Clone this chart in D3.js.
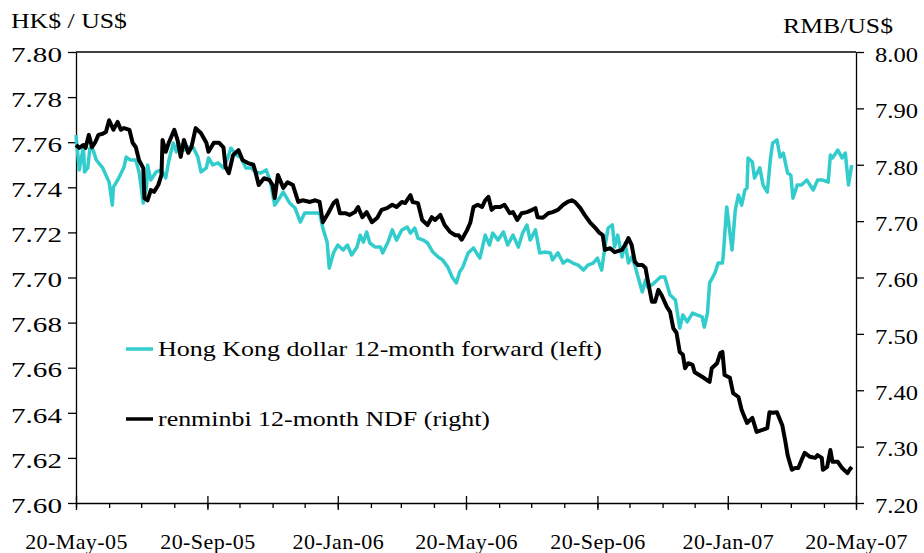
<!DOCTYPE html>
<html>
<head>
<meta charset="utf-8">
<script src="https://cdn.jsdelivr.net/npm/d3@7"></script>
<style>
  body { margin: 0; background: #fff; }
  text { font-family: "Liberation Serif", "Times New Roman", serif; fill: #000; }
</style>
</head>
<body>
<div id="chart"></div>
<script>
// x values are days after 20-May-05
const startDate = new Date(2005, 4, 20);
const endDate = new Date(2007, 4, 20);

const hkDay = [0,3,7,8,11,13,16,19,25,31,34,35,40,45,47,51,56,59,63,66,67,70,75,80,84,87,91,94,96,101,105,110,114,117,122,124,128,133,138,142,145,150,154,159,164,168,173,178,182,186,188,194,200,205,210,214,222,228,231,235,237,241,245,250,254,258,263,266,269,272,275,280,285,287,292,296,300,305,310,313,317,320,325,329,334,339,343,348,352,356,359,362,367,372,376,378,383,387,390,395,400,404,409,414,418,422,425,430,434,439,444,446,451,456,460,465,470,475,479,484,488,492,495,498,502,504,507,511,514,517,520,523,526,530,533,535,539,544,547,551,556,561,565,568,572,577,581,586,588,591,593,598,601,605,606,609,612,614,617,620,623,626,628,629,633,635,640,643,647,650,652,656,659,662,666,669,671,675,679,684,690,694,699,704,706,708,713,717,720,723,726];
const hkRate = [7.7632,7.7477,7.7579,7.7468,7.7486,7.7574,7.7565,7.7521,7.7486,7.7423,7.7321,7.7401,7.7441,7.7490,7.7534,7.7521,7.7521,7.7468,7.7330,7.7401,7.7499,7.7432,7.7468,7.7477,7.7441,7.7521,7.7596,7.7557,7.7596,7.7565,7.7579,7.7574,7.7534,7.7468,7.7486,7.7530,7.7499,7.7508,7.7486,7.7530,7.7574,7.7543,7.7534,7.7486,7.7486,7.7468,7.7463,7.7477,7.7423,7.7321,7.7335,7.7379,7.7330,7.7308,7.7246,7.7286,7.7286,7.7286,7.7219,7.7157,7.7042,7.7109,7.7144,7.7122,7.7144,7.7100,7.7135,7.7188,7.7157,7.7202,7.7153,7.7135,7.7135,7.7109,7.7157,7.7211,7.7166,7.7211,7.7224,7.7197,7.7219,7.7175,7.7166,7.7153,7.7113,7.7091,7.7078,7.7046,7.7002,7.6976,7.7024,7.7046,7.7109,7.7131,7.7100,7.7086,7.7188,7.7144,7.7197,7.7166,7.7202,7.7144,7.7188,7.7135,7.7197,7.7233,7.7166,7.7211,7.7109,7.7113,7.7109,7.7078,7.7109,7.7064,7.7078,7.7064,7.7055,7.7033,7.7055,7.7064,7.7086,7.7033,7.7135,7.7219,7.7233,7.7135,7.7188,7.7091,7.7153,7.7064,7.7091,7.7055,7.7002,7.6936,7.6989,7.6958,7.6967,7.6989,7.7002,7.7002,7.6922,7.6900,7.6776,7.6834,7.6803,7.6842,7.6834,7.6825,7.6780,7.6842,7.6976,7.7020,7.7064,7.7064,7.7113,7.7313,7.7197,7.7122,7.7299,7.7366,7.7321,7.7388,7.7397,7.7530,7.7512,7.7441,7.7486,7.7410,7.7379,7.7530,7.7596,7.7610,7.7534,7.7552,7.7463,7.7454,7.7352,7.7410,7.7410,7.7432,7.7388,7.7432,7.7432,7.7423,7.7543,7.7530,7.7565,7.7530,7.7552,7.7410,7.7499];

const rmbDay = [0,3,7,9,12,15,18,21,25,28,31,35,39,42,45,50,53,56,59,63,64,67,70,73,77,80,81,84,87,92,95,98,101,105,108,112,117,122,124,129,134,138,140,143,147,152,156,161,166,168,171,176,181,184,186,189,194,198,203,208,212,219,224,228,231,236,241,244,247,252,256,261,264,268,272,277,282,286,291,296,300,305,308,313,315,320,324,329,333,336,341,345,350,355,358,361,366,369,372,376,380,383,386,389,392,397,401,406,409,413,417,422,427,430,432,437,442,446,451,456,460,464,467,472,476,481,486,490,493,495,500,504,511,514,517,520,523,526,530,533,535,539,542,545,548,553,556,559,562,565,568,570,573,577,579,586,593,595,600,603,605,607,612,615,620,623,628,633,637,643,647,649,652,656,661,664,666,670,673,676,679,682,687,692,694,698,699,703,706,708,713,717,722,724,726];
const rmbRate = [7.835,7.830,7.835,7.830,7.853,7.831,7.840,7.853,7.855,7.858,7.879,7.862,7.876,7.862,7.865,7.862,7.839,7.831,7.808,7.794,7.741,7.737,7.755,7.752,7.764,7.782,7.844,7.823,7.840,7.862,7.844,7.814,7.844,7.821,7.831,7.865,7.856,7.839,7.823,7.839,7.839,7.831,7.796,7.785,7.817,7.826,7.808,7.803,7.800,7.787,7.764,7.776,7.773,7.764,7.741,7.782,7.759,7.769,7.764,7.734,7.737,7.734,7.737,7.734,7.698,7.714,7.732,7.737,7.714,7.714,7.711,7.716,7.725,7.707,7.716,7.698,7.706,7.720,7.723,7.729,7.725,7.734,7.732,7.746,7.734,7.732,7.702,7.693,7.707,7.702,7.711,7.693,7.681,7.675,7.675,7.667,7.684,7.697,7.725,7.729,7.725,7.737,7.743,7.720,7.725,7.725,7.729,7.714,7.716,7.702,7.714,7.716,7.720,7.723,7.707,7.706,7.714,7.716,7.720,7.729,7.734,7.737,7.734,7.723,7.711,7.698,7.688,7.679,7.675,7.649,7.652,7.645,7.649,7.658,7.670,7.658,7.628,7.622,7.622,7.617,7.596,7.557,7.557,7.578,7.569,7.548,7.539,7.510,7.502,7.468,7.463,7.439,7.448,7.445,7.432,7.424,7.415,7.439,7.448,7.466,7.468,7.427,7.422,7.395,7.388,7.365,7.342,7.351,7.326,7.330,7.333,7.361,7.360,7.361,7.338,7.308,7.285,7.259,7.262,7.262,7.276,7.289,7.282,7.280,7.285,7.280,7.259,7.264,7.294,7.273,7.273,7.262,7.253,7.259,7.264];

const leftTicks = [7.60,7.62,7.64,7.66,7.68,7.70,7.72,7.74,7.76,7.78,7.80];
const rightTicks = [7.20,7.30,7.40,7.50,7.60,7.70,7.80,7.90,8.00];
const hkLabel = "Hong Kong dollar 12-month forward (left)";
const rmbLabel = "renminbi 12-month NDF (right)";

const hkColor = "#33cccc";
const rmbColor = "#000000";

const margin = {top: 52, right: 68, bottom: 50, left: 76},
    width = 924 - margin.left - margin.right,
    height = 553 - margin.top - margin.bottom;

const svgRoot = d3.select("#chart")
    .append("svg")
    .attr("width", 924)
    .attr("height", 553);
const svg = svgRoot.append("g")
    .attr("transform", `translate(${margin.left},${margin.top})`);

const x = d3.scaleTime().domain([startDate, endDate]).range([0, width]);
const yL = d3.scaleLinear().domain([7.60, 7.80]).range([height, 0]);
const yR = d3.scaleLinear().domain([7.20, 8.00]).range([height, 0]);

const hkData = hkDay.map((d, i) => ({date: d3.timeDay.offset(startDate, d), v: hkRate[i]}));
const rmbData = rmbDay.map((d, i) => ({date: d3.timeDay.offset(startDate, d), v: rmbRate[i]}));

// monthly tick dates on the 20th, labels every 4 months
const months = d3.timeMonth.range(new Date(2005, 4, 1), new Date(2007, 5, 1)).map(m => new Date(m.getFullYear(), m.getMonth(), 20));
const majors = months.filter((m, i) => i % 4 === 0);
const fmt = d3.timeFormat("%d-%b-%y");

// text in the original is drawn a bit wide, so stretch it to the measured widths
function stretch(sel, w) {
    sel.attr("textLength", w).attr("lengthAdjust", "spacingAndGlyphs");
}

// top border
svg.append("line")
    .attr("x1", 0).attr("x2", width)
    .attr("y1", 0).attr("y2", 0)
    .attr("stroke", "black").attr("stroke-width", 1.3);

// left axis
const gl = svg.append("g")
    .call(d3.axisLeft(yL).tickValues(leftTicks).tickFormat(d3.format(".2f")).tickSize(8).tickSizeOuter(0).tickPadding(6));
gl.selectAll("text").style("font-size", "22px").attr("dy", "0.42em").call(stretch, 51);

// right axis
const gr = svg.append("g")
    .attr("transform", `translate(${width},0)`)
    .call(d3.axisRight(yR).tickValues(rightTicks).tickFormat(d3.format(".2f")).tickSize(8).tickSizeOuter(0).tickPadding(11));
gr.selectAll("text").style("font-size", "22px").attr("dy", "0.42em").call(stretch, 43);

// bottom axis: minor monthly ticks
svg.append("g")
    .attr("transform", `translate(0,${height})`)
    .call(d3.axisBottom(x).tickValues(months).tickFormat("").tickSize(5).tickSizeOuter(0));

// major ticks crossing the axis, with labels
const gb = svg.append("g")
    .attr("transform", `translate(0,${height})`)
    .call(d3.axisBottom(x).tickValues(majors).tickFormat(fmt).tickSize(7).tickSizeOuter(0));
gb.select(".domain").remove();
gb.selectAll("line").attr("y1", -7);
gb.selectAll("text").style("font-size", "22px").style("letter-spacing", "0.4px").attr("y", 30).attr("dy", "0.71em");

svg.selectAll(".domain, .tick line").attr("stroke", "black").attr("stroke-width", 1.3);

// lines
const lineL = d3.line().x(d => x(d.date)).y(d => yL(d.v));
const lineR = d3.line().x(d => x(d.date)).y(d => yR(d.v));

svg.append("path")
    .datum(hkData)
    .attr("fill", "none")
    .attr("stroke", hkColor)
    .attr("stroke-width", 3.5)
    .attr("stroke-linejoin", "round")
    .attr("d", lineL);

svg.append("path")
    .datum(rmbData)
    .attr("fill", "none")
    .attr("stroke", rmbColor)
    .attr("stroke-width", 4)
    .attr("stroke-linejoin", "round")
    .attr("d", lineR);

// axis titles
svgRoot.append("text").attr("x", 11).attr("y", 28).style("font-size", "22px").text("HK$ / US$").call(stretch, 116);
svgRoot.append("text").attr("x", 893).attr("y", 33).attr("text-anchor", "end").style("font-size", "22px").text("RMB/US$").call(stretch, 110);

// legend
const legend = [
    {label: hkLabel, color: hkColor, y: 349, w: 444},
    {label: rmbLabel, color: rmbColor, y: 419, w: 332}
];
const lg = svgRoot.selectAll(".legend").data(legend).enter().append("g").attr("class", "legend");
lg.append("line")
    .attr("x1", 126).attr("x2", 153)
    .attr("y1", d => d.y).attr("y2", d => d.y)
    .attr("stroke", d => d.color).attr("stroke-width", 3.5);
lg.append("text")
    .attr("x", 158).attr("y", d => d.y)
    .attr("dy", "0.32em")
    .style("font-size", "22px")
    .attr("textLength", d => d.w)
    .attr("lengthAdjust", "spacingAndGlyphs")
    .text(d => d.label);
</script>
</body>
</html>
